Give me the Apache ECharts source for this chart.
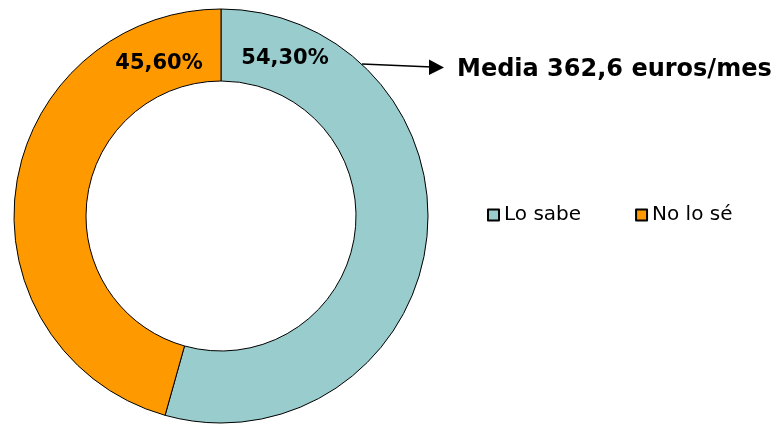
<!DOCTYPE html>
<html>
<head>
<meta charset="utf-8">
<script src="https://cdn.jsdelivr.net/npm/echarts@6/dist/echarts.min.js"></script>
<style>
html,body{margin:0;padding:0;background:#fff;}
#chart{width:780px;height:424px;}
</style>
</head>
<body>
<div id="chart"></div>
<script>
var categories = ['Lo sabe', 'No lo sé'];
var values = [54.3, 45.6];
var colors = ['#99CCCC', '#FF9900'];
var annotationText = 'Media 362,6 euros/mes';

var labelPos = [[285, 59], [159, 64]];

var chart = echarts.init(document.getElementById('chart'));
var fontFam = '"DejaVu Sans", Verdana, sans-serif';

chart.setOption({
  backgroundColor: '#ffffff',
  animation: false,
  legend: {
    left: 487,
    top: 205,
    padding: 0,
    itemWidth: 11,
    itemHeight: 11,
    itemGap: 54,
    icon: 'rect',
    selectedMode: false,
    textStyle: { fontFamily: fontFam, fontSize: 20, color: '#000' },
    data: categories
  },
  series: [{
    type: 'pie',
    center: [221, 216],
    radius: [135, 207],
    startAngle: 90,
    clockwise: true,
    silent: true,
    itemStyle: { borderColor: '#000', borderWidth: 1 },
    label: {
      show: true,
      position: 'inside',
      fontFamily: fontFam,
      fontWeight: 'bold',
      fontSize: 21,
      color: '#000',
      formatter: function (p) { return p.value.toFixed(2).replace('.', ',') + '%'; }
    },
    labelLine: { show: false },
    labelLayout: function (p) {
      var pos = labelPos[p.dataIndex];
      return { x: pos[0], y: pos[1], align: 'center', verticalAlign: 'middle' };
    },
    data: categories.map(function (c, i) {
      return { name: c, value: values[i], itemStyle: { color: colors[i] } };
    })
  }],
  graphic: [
    {
      type: 'line',
      shape: { x1: 362, y1: 64, x2: 432, y2: 67 },
      style: { stroke: '#000', lineWidth: 1.3 }
    },
    {
      type: 'polygon',
      shape: { points: [[429, 59.5], [444, 67.5], [429, 75]] },
      style: { fill: '#000' }
    },
    {
      type: 'text',
      left: 457,
      top: 58,
      style: {
        text: annotationText,
        font: 'bold 24px ' + fontFam,
        fill: '#000'
      }
    }
  ]
});
</script>
</body>
</html>
